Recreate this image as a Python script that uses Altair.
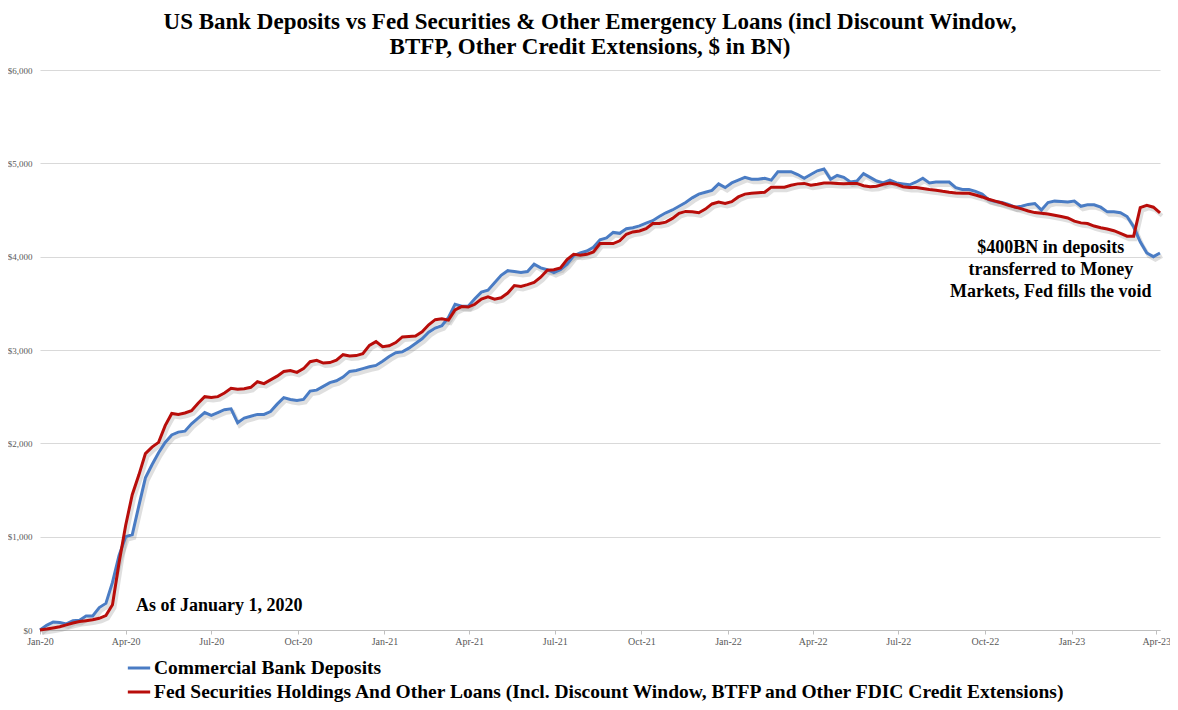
import altair as alt
import pandas as pd

start_date = "2020-01-01"

deposits = [
    0, 50, 85, 80, 65, 100, 105, 150, 150, 240,
    285, 510, 800, 1000, 1020, 1330, 1630, 1770, 1900, 2010,
    2090, 2120, 2130, 2210, 2270, 2330, 2300, 2330, 2360, 2370,
    2220, 2270, 2290, 2310, 2310, 2340, 2420, 2490, 2470, 2460,
    2470, 2560, 2570, 2610, 2650, 2670, 2710, 2770, 2780, 2800,
    2820, 2835, 2880, 2930, 2970, 2980, 3020, 3070, 3120, 3190,
    3235, 3260, 3350, 3490, 3470, 3470, 3550, 3620, 3640, 3720,
    3800, 3850, 3840, 3830, 3840, 3920, 3880, 3860, 3830, 3860,
    3920, 4010, 4040, 4060, 4100, 4180, 4200, 4260, 4250, 4300,
    4310, 4330, 4360, 4385, 4430, 4470, 4500, 4540, 4580, 4630,
    4670, 4690, 4710, 4780, 4740, 4790, 4820, 4850, 4830, 4830,
    4840, 4820, 4910, 4910, 4910, 4880, 4840, 4880, 4920, 4940,
    4830, 4870, 4850, 4800, 4810, 4890, 4850, 4810, 4790, 4820,
    4790, 4780, 4770, 4800, 4840, 4790, 4800, 4800, 4800, 4740,
    4720, 4720, 4700, 4670, 4610, 4590, 4580, 4560, 4530, 4540,
    4560, 4570, 4500, 4580, 4595, 4590, 4585, 4595, 4540, 4555,
    4555, 4530, 4480, 4480, 4470, 4430, 4320, 4160, 4040, 4000,
    4040,
]

fed_loans = [
    0, 10, 22, 35, 55, 75, 90, 100, 110, 125,
    155, 270, 720, 1120, 1450, 1660, 1890, 1960, 2010, 2190,
    2320, 2310, 2325, 2350, 2430, 2500, 2490, 2500, 2540, 2590,
    2580, 2585, 2600, 2660, 2640, 2680, 2720, 2770, 2780, 2760,
    2800, 2875, 2890, 2860, 2865, 2890, 2950, 2935, 2940, 2960,
    3050, 3090, 3035, 3045, 3080, 3140, 3145, 3150, 3195, 3270,
    3325, 3335, 3320, 3430, 3465, 3460, 3490, 3545, 3570, 3545,
    3560, 3610, 3690, 3680, 3700, 3725, 3780, 3855, 3860, 3880,
    3970, 4025, 4015, 4025, 4050, 4140, 4140, 4140, 4170, 4240,
    4265, 4275, 4300, 4355, 4355, 4370, 4410, 4465, 4485, 4480,
    4470, 4510, 4565, 4585, 4570, 4590, 4640, 4670, 4680, 4685,
    4690, 4745, 4745, 4745, 4765, 4780, 4785, 4765, 4775, 4790,
    4790, 4785, 4780, 4785, 4785, 4760, 4750, 4755, 4775, 4790,
    4775, 4750, 4740, 4740, 4730, 4720, 4712, 4700, 4690, 4682,
    4680, 4680, 4660, 4640, 4615, 4595, 4575, 4550, 4532, 4512,
    4490, 4472, 4465, 4457, 4443, 4430, 4415, 4380, 4362, 4355,
    4328, 4310, 4297, 4278, 4250, 4220, 4220, 4525, 4550, 4530,
    4470,
]

series_names = [
    "Commercial Bank Deposits",
    "Fed Securities Holdings And Other Loans (Incl. Discount Window, BTFP and Other FDIC Credit Extensions)",
]
series_colors = ["#4A7CC4", "#B80D0A"]

title_lines = [
    "US Bank Deposits vs Fed Securities & Other Emergency Loans (incl Discount Window,",
    "BTFP, Other Credit Extensions, $ in BN)",
]
note_left = "As of January 1, 2020"
note_right = ["$400BN in deposits", "transferred to Money", "Markets, Fed fills the void"]

dates = pd.date_range(start_date, periods=len(deposits), freq="7D")
df = pd.concat([
    pd.DataFrame({"date": dates, "value": deposits, "series": series_names[0]}),
    pd.DataFrame({"date": dates, "value": fed_loans, "series": series_names[1]}),
])

tick_dates = [alt.DateTime(year=y, month=m, date=1)
              for y in (2020, 2021, 2022, 2023) for m in (1, 4, 7, 10)][:14]

serif = "Liberation Serif"

x_enc = alt.X(
    "date:T",
    scale=alt.Scale(domain=[alt.DateTime(year=2020, month=1, date=1),
                            alt.DateTime(year=2023, month=4, date=5)]),
    axis=alt.Axis(values=tick_dates, format="%b-%y", title=None, grid=False,
                  domainColor="#BFBFBF", tickColor="#BFBFBF", tickSize=4,
                  labelFont=serif, labelFontSize=10, labelColor="#595959",
                  labelPadding=2, labelFlush=False, labelOverlap=False),
)
y_enc = alt.Y(
    "value:Q",
    scale=alt.Scale(domain=[0, 6000], nice=False),
    axis=alt.Axis(values=[0, 1000, 2000, 3000, 4000, 5000, 6000],
                  labelExpr="'$' + format(datum.value, ',')",
                  title=None, domain=False, ticks=False, gridColor="#D9D9D9",
                  labelFont=serif, labelFontSize=9, labelColor="#595959",
                  labelPadding=8),
)

shadow = alt.Chart(df).mark_line(
    strokeWidth=4, color="#808080", opacity=0.25, xOffset=2, yOffset=3
).encode(x=x_enc, y=y_enc, detail="series:N")

lines = alt.Chart(df).mark_line(strokeWidth=3).encode(
    x=x_enc,
    y=y_enc,
    color=alt.Color(
        "series:N",
        scale=alt.Scale(domain=series_names, range=series_colors),
        legend=alt.Legend(
            title=None, orient="none", legendX=86, legendY=585,
            symbolType="stroke", symbolSize=500, symbolStrokeWidth=3,
            labelFont=serif, labelFontSize=19.5, labelFontWeight="bold",
            labelColor="#000000", labelLimit=1200, rowPadding=1,
            labelOffset=2,
        ),
    ),
)

left_note = alt.Chart().mark_text(
    text=note_left, font=serif, fontSize=18, fontWeight="bold",
    align="left", baseline="middle", color="#000000",
).encode(
    x=alt.X(datum=alt.DateTime(year=2020, month=4, date=12), type="temporal"),
    y=alt.Y(datum=260, type="quantitative"),
)

right_note = alt.Chart().mark_text(
    text=note_right, font=serif, fontSize=18, fontWeight="bold",
    align="center", baseline="top", lineHeight=22, color="#000000",
).encode(
    x=alt.X(datum=alt.DateTime(year=2022, month=12, date=10), type="temporal"),
    y=alt.Y(datum=4190, type="quantitative"),
)

chart = alt.layer(shadow, lines, left_note, right_note).properties(
    width=1120,
    height=560,
    autosize=alt.AutoSizeParams(type="none"),
    padding={"left": 32, "top": 62, "right": 10, "bottom": 72},
    background="white",
    title=alt.TitleParams(
        text=title_lines, font=serif, fontSize=23, fontWeight="bold",
        color="#000000", anchor="middle", offset=7, lineHeight=25, dx=-10,
    ),
).configure_view(stroke=None)

chart.save("out.html", embed_options={"renderer": "svg", "actions": False})
